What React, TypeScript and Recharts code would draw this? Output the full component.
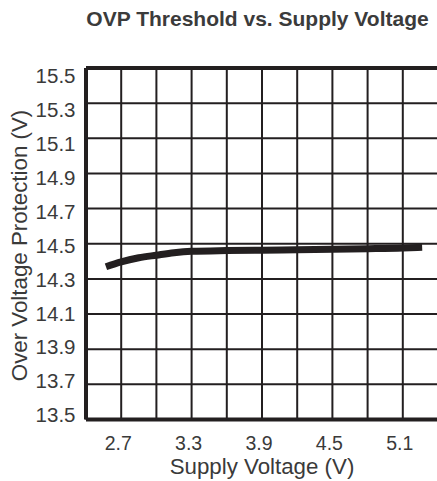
import React from 'react';
import {
  LineChart,
  Line,
  XAxis,
  YAxis,
  CartesianGrid,
  ReferenceLine,
  Label,
} from 'recharts';

// Supply voltage (V) vs OVP threshold (V)
const supplyVoltage = [2.57, 2.7, 2.85, 3.0, 3.15, 3.3, 3.6, 3.9, 4.2, 4.5, 4.8, 5.1, 5.265];
const ovpThreshold = [14.369, 14.397, 14.42, 14.435, 14.449, 14.457, 14.461, 14.463, 14.466, 14.469, 14.472, 14.476, 14.48];

const xTicks = [2.4, 2.7, 3.0, 3.3, 3.6, 3.9, 4.2, 4.5, 4.8, 5.1, 5.4];
const xTickLabels = ['2.7', '3.3', '3.9', '4.5', '5.1'];
const yTicks = [13.5, 13.7, 13.9, 14.1, 14.3, 14.5, 14.7, 14.9, 15.1, 15.3, 15.5];

const data = supplyVoltage.map((v, i) => ({ v, ovp: ovpThreshold[i] }));

const ink = '#231f20';
const textColor = '#3a3a3a';
const font = '"Liberation Sans", Arial, sans-serif';

// the printed y labels sit a little tighter than the grid: 15.5 drops, 13.5 rises
const YTick = ({ x, y, payload }: any) => {
  const v = payload.value as number;
  const shift = -4.5 + ((v - 13.5) / 2) * 12.5;
  return (
    <text
      x={x}
      y={y + shift}
      dy="0.355em"
      textAnchor="end"
      fill={textColor}
      fontSize={20.5}
      fontFamily={font}
    >
      {v.toFixed(1)}
    </text>
  );
};

const YTitle = () => {
  const cx = 27;
  const cy = 245.5;
  return (
    <text
      x={cx}
      y={cy}
      transform={`rotate(-90 ${cx} ${cy})`}
      textAnchor="middle"
      fill={textColor}
      fontSize={22.3}
      fontFamily={font}
    >
      Over Voltage Protection (V)
    </text>
  );
};

const XTitle = ({ viewBox }: any) => (
  <text
    x={viewBox.x + viewBox.width / 2}
    y={474}
    textAnchor="middle"
    fill={textColor}
    fontSize={22.3}
    fontFamily={font}
  >
    Supply Voltage (V)
  </text>
);

const App: React.FC = () => {
  return (
    <div
      style={{
        position: 'absolute',
        left: 0,
        top: 0,
        width: 437,
        height: 481,
        overflow: 'hidden',
        background: '#fff',
        fontFamily: font,
      }}
    >
      <div
        style={{
          position: 'absolute',
          left: 0,
          width: 515,
          top: 8,
          textAlign: 'center',
          fontSize: 21,
          lineHeight: '21px',
          fontWeight: 'bold',
          color: '#3b3b3b',
          whiteSpace: 'nowrap',
        }}
      >
        OVP Threshold vs. Supply Voltage
      </div>
      <LineChart
        width={450}
        height={481}
        data={data}
        margin={{ top: 68, right: 12, left: 0, bottom: 0 }}
      >
        <CartesianGrid stroke={ink} strokeWidth={2} />
        <XAxis
          dataKey="v"
          type="number"
          domain={[2.4, 5.4]}
          ticks={xTicks}
          interval={0}
          height={61.5}
          tickSize={0}
          tickMargin={17}
          tickLine={false}
          axisLine={{ stroke: ink, strokeWidth: 4 }}
          tick={{ fill: textColor, fontSize: 19.5, fontFamily: font, dx: -3 }}
          tickFormatter={(v: number) => (xTickLabels.includes(v.toFixed(1)) ? v.toFixed(1) : '')}
        >
          <Label content={<XTitle />} />
        </XAxis>
        <YAxis
          type="number"
          domain={[13.5, 15.5]}
          ticks={yTicks}
          interval={0}
          width={86}
          tickSize={0}
          tickMargin={10.5}
          tickLine={false}
          axisLine={{ stroke: ink, strokeWidth: 4 }}
          tick={<YTick />}
        >
          <Label content={<YTitle />} />
        </YAxis>
        <ReferenceLine y={15.5} stroke={ink} strokeWidth={4} />
        <Line
          type="monotone"
          dataKey="ovp"
          stroke={ink}
          strokeWidth={7}
          dot={false}
          isAnimationActive={false}
        />
      </LineChart>
    </div>
  );
};

export default App;
